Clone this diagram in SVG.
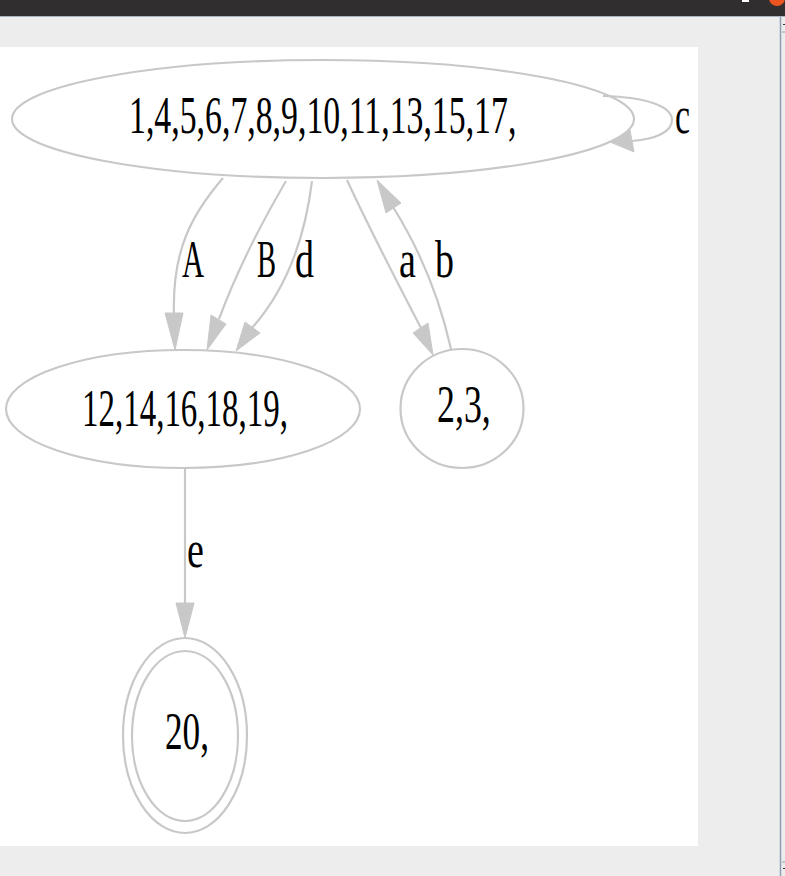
<svg xmlns="http://www.w3.org/2000/svg" width="785" height="876" viewBox="0 0 785 876">
  <style>
    .node { fill: none; stroke: #c8c8c8; stroke-width: 2.2; }
    .edge { fill: none; stroke: #c8c8c8; stroke-width: 2.2; }
    .head { fill: #c8c8c8; stroke: #c8c8c8; stroke-width: 1; }
    .lbl  { font-family: "Liberation Serif", "Times New Roman", serif; font-size: 52px; fill: #000; }
  </style>

  <!-- window chrome -->
  <rect x="0" y="0" width="785" height="876" fill="#ededed"/>
  <rect x="0" y="0" width="785" height="16" fill="#302e2f"/>
  <line x1="0" y1="16.5" x2="785" y2="16.5" stroke="#a9b4c0" stroke-width="1"/>
  <rect x="742" y="0" width="7" height="2" fill="#ffffff"/>
  <circle cx="777" cy="-2" r="8" fill="#e95420"/>
  <line x1="780.5" y1="17" x2="780.5" y2="876" stroke="#8f9fb3" stroke-width="1.5"/>
  <line x1="782" y1="32" x2="785" y2="32" stroke="#8f9fb3" stroke-width="1"/>
  <line x1="782" y1="862" x2="785" y2="862" stroke="#8f9fb3" stroke-width="1"/>
  <rect x="783" y="24" width="2" height="1" fill="#333"/>
  <rect x="783" y="868" width="2" height="1" fill="#333"/>

  <!-- canvas -->
  <rect x="0" y="47" width="698" height="799" fill="#ffffff"/>

  <!-- connectors; labels are condensed horizontally with scale() -->
  <g id="edges">
    <g id="e_A">
      <path class="edge" d="M223,178 C192,214 172,250 174,314"/>
      <polygon class="head" points="175,350 165,313 183,313"/>
      <text class="lbl" transform="translate(182,277) scale(0.59,1)">A</text>
    </g>
    <g id="e_B">
      <path class="edge" d="M286,181 C262,222 238,268 219,319"/>
      <polygon class="head" points="207,350 211,315 226,324"/>
      <text class="lbl" transform="translate(257,277) scale(0.55,1)">B</text>
    </g>
    <g id="e_d">
      <path class="edge" d="M312,181 C306,230 290,285 252,328"/>
      <polygon class="head" points="236,351 245,322 260,333"/>
      <text class="lbl" transform="translate(295,277) scale(0.73,1)">d</text>
    </g>
    <g id="e_a">
      <path class="edge" d="M347,180 C370,230 396,280 421,328"/>
      <polygon class="head" points="433,355 413,333 428,323"/>
      <text class="lbl" transform="translate(399,277) scale(0.73,1)">a</text>
    </g>
    <g id="e_b">
      <path class="edge" d="M451,349 C440,300 420,250 393,207"/>
      <polygon class="head" points="377,180 386,213 401,203"/>
      <text class="lbl" transform="translate(435,277) scale(0.73,1)">b</text>
    </g>
    <g id="e_c">
      <path class="edge" d="M603,96 C648,97 672,107 672,120 C672,132 656,139 632,141"/>
      <polygon class="head" points="610,142 630,130 634,152"/>
      <text class="lbl" transform="translate(675,133) scale(0.65,1)">c</text>
    </g>
    <g id="e_e">
      <path class="edge" d="M185,468 L185,604"/>
      <polygon class="head" points="185,638 176,603 194,603"/>
      <text class="lbl" transform="translate(187,567) scale(0.73,1)">e</text>
    </g>
  </g>

  <!-- states -->
  <g id="n_start">
    <ellipse class="node" cx="323" cy="119" rx="311" ry="59"/>
    <text class="lbl" transform="translate(129,133) scale(0.65,1)">1,4,5,6,7,8,9,10,11,13,15,17,</text>
  </g>
  <g id="n_12">
    <ellipse class="node" cx="183" cy="409" rx="177" ry="59"/>
    <text class="lbl" transform="translate(82,426) scale(0.634,1)">12,14,16,18,19,</text>
  </g>
  <g id="n_2">
    <ellipse class="node" cx="462" cy="408.5" rx="61.5" ry="59.5"/>
    <text class="lbl" transform="translate(437,422) scale(0.69,1)">2,3,</text>
  </g>
  <g id="n_20">
    <ellipse class="node" cx="185" cy="735.5" rx="62" ry="97.5"/>
    <ellipse class="node" cx="185" cy="736" rx="53" ry="85"/>
    <text class="lbl" transform="translate(165,749) scale(0.677,1)">20,</text>
  </g>
</svg>
